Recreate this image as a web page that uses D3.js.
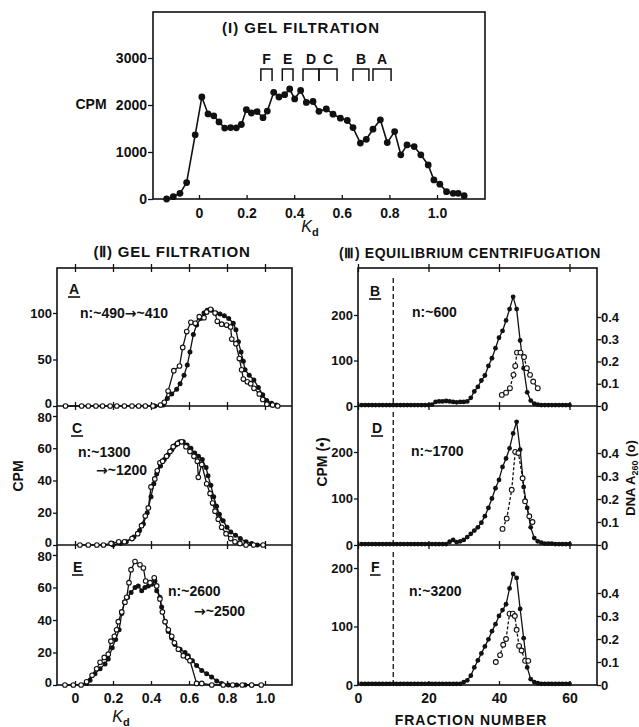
<!DOCTYPE html>
<html>
<head>
<meta charset="utf-8">
<script src="https://cdn.jsdelivr.net/npm/d3@7"></script>
<style>
  body { margin: 0; background: #fff; }
  text { font-family: "Liberation Sans", Arial, sans-serif; font-weight: bold; fill: #111; }
  .arrow { font-family: "DejaVu Sans", sans-serif; }
</style>
</head>
<body>
<div id="chart"></div>
<script>
// ---- (I) gel filtration profile [Kd, CPM]
const gelI = [[-0.136,0],[-0.108,50],[-0.08,120],[-0.052,350],[-0.016,1365],[0.012,2170],[0.038,1810],
  [0.062,1770],[0.084,1640],[0.108,1510],[0.133,1520],[0.157,1515],[0.178,1585],[0.199,1900],[0.22,1830],
  [0.244,1860],[0.269,1730],[0.287,1870],[0.314,2270],[0.336,2170],[0.36,2220],[0.381,2340],[0.402,2130],
  [0.427,2310],[0.451,2055],[0.479,2075],[0.504,1865],[0.535,1915],[0.563,1805],[0.594,1720],[0.623,1670],
  [0.647,1520],[0.678,1190],[0.703,1270],[0.731,1485],[0.762,1685],[0.791,1200],[0.822,1435],[0.848,940],
  [0.874,1150],[0.904,1115],[0.932,940],[0.963,725],[0.987,405],[1.012,315],[1.04,155],[1.068,120],
  [1.089,120],[1.114,70]];

// pooled fractions
const poolNames = ["F", "E", "D", "C", "B", "A"];
const poolStart = [0.26, 0.35, 0.437, 0.504, 0.647, 0.731];
const poolEnd   = [0.307, 0.395, 0.504, 0.58, 0.714, 0.807];

// ---- (II) re-chromatography [Kd, CPM]; open = open circles, fill = filled circles
const openA = [[-0.05,0],[0.035,0],[0.07,0],[0.11,0],[0.145,0],[0.185,0],[0.22,0],[0.26,0],[0.3,0],[0.335,0],
  [0.37,0],[0.41,0],[0.45,1],[0.47,4],[0.49,16],[0.52,38],[0.55,43],[0.567,63],[0.588,80],[0.61,90],[0.633,89],
  [0.654,96],[0.679,95],[0.693,101],[0.714,104],[0.737,100],[0.749,91],[0.772,88],[0.798,87],[0.819,85],
  [0.825,72],[0.847,67],[0.865,51],[0.877,39],[0.886,29],[0.907,26],[0.925,24],[0.942,19],[0.97,13],
  [0.988,7],[1.01,2],[1.04,1],[1.067,0]];
const fillA = [[0.42,0],[0.465,1],[0.486,8],[0.509,13],[0.535,18],[0.553,24],[0.574,33],[0.591,44],[0.605,58],
  [0.623,77],[0.64,87],[0.661,94],[0.679,100],[0.696,103],[0.719,103],[0.742,100],[0.763,99],[0.786,97],
  [0.809,94],[0.833,89],[0.847,82],[0.86,69],[0.874,58],[0.886,48],[0.895,39],[0.917,33],[0.942,28],
  [0.965,20],[0.988,12],[1.009,6],[1.035,3],[1.06,1]];

const openC = [[0.026,0],[0.07,0],[0.115,0],[0.15,0],[0.19,1],[0.23,2],[0.26,2],[0.3,4],[0.33,7],[0.35,12],
  [0.37,18],[0.386,23],[0.4,36],[0.42,41],[0.433,46],[0.447,51],[0.461,52],[0.482,55],[0.5,58],[0.517,61],
  [0.54,63],[0.561,64],[0.584,61],[0.605,58],[0.626,55],[0.644,52],[0.649,42],[0.667,50],[0.693,38],
  [0.711,32],[0.724,26],[0.737,21],[0.754,16],[0.772,11],[0.795,7],[0.82,4],[0.842,2],[0.868,1],[0.9,0],
  [0.94,0],[0.99,0]];
const fillC = [[0.2,0],[0.24,1],[0.27,2],[0.31,5],[0.34,9],[0.36,13],[0.38,20],[0.4,30],[0.415,38],[0.43,44],
  [0.45,49],[0.47,53],[0.49,56],[0.51,59],[0.53,62],[0.55,64],[0.57,64],[0.59,62],[0.61,60],[0.63,57],
  [0.65,55],[0.67,53],[0.69,48],[0.7,43],[0.715,37],[0.73,30],[0.745,24],[0.76,19],[0.78,15],[0.8,11],
  [0.82,8],[0.845,6],[0.87,4],[0.9,2],[0.93,1],[0.96,0]];

const openE = [[-0.053,0],[-0.009,0],[0.032,0],[0.061,2],[0.09,6],[0.114,10],[0.132,14],[0.154,17],[0.175,19],
  [0.189,27],[0.207,30],[0.219,34],[0.228,39],[0.246,45],[0.263,51],[0.272,54],[0.284,63],[0.295,71],
  [0.316,76],[0.342,74],[0.36,72],[0.372,64],[0.395,63],[0.417,66],[0.43,61],[0.447,53],[0.46,45],
  [0.474,39],[0.491,34],[0.509,30],[0.523,26],[0.544,22],[0.57,18],[0.593,17],[0.605,15],[0.64,1],
  [0.667,1],[0.72,0],[0.78,0],[0.83,0],[0.88,0],[0.93,0],[0.98,0]];
const fillE = [[0.061,1],[0.079,3],[0.105,7],[0.132,10],[0.158,13],[0.175,16],[0.196,23],[0.214,28],[0.232,34],
  [0.246,44],[0.26,51],[0.277,54],[0.295,57],[0.316,60],[0.333,61],[0.351,58],[0.368,60],[0.386,61],
  [0.404,62],[0.421,64],[0.43,58],[0.447,54],[0.456,48],[0.474,39],[0.491,33],[0.509,29],[0.526,25],
  [0.553,22],[0.579,20],[0.596,18],[0.618,15],[0.64,12],[0.667,9],[0.693,7],[0.719,5],[0.746,2.5],
  [0.772,1],[0.807,0],[0.851,0],[0.895,0],[0.93,0]];

// ---- (III) equilibrium centrifugation, CPM per fraction
const fractions = [1,2,3,4,5,6,7,8,9,10,11,12,13,14,15,16,17,18,19,20,21,22,23,24,25,26,27,28,29,30,
  31,32,33,34,35,36,37,38,39,40,41,42,43,44,45,46,47,48,49,50,51,52,53,54,55,56,57,58,59,60];
const cpmB = [2,2,2,2,2,2,2,2,2,2,2,2,2,2,2,2,2,2,2,2,3,
  9,10,10,11,10,9,8,9,9,10,
  18,32,42,56,67,88,105,127,150,165,
  188,213,240,213,144,83,30,12,5,3,
  2,2,2,2,2,2,2,2,2];
const cpmD = [2,2,2,2,2,2,2,2,2,2,2,2,2,2,2,2,2,2,2,2,2,2,2,2,2,
  7,11,6,8,11,17,24,31,38,48,
  62,80,100,122,140,168,186,208,240,265,
  205,125,80,38,15,8,5,3,3,3,
  2,2,2,2,2];
const cpmF = [2,2,2,2,2,2,2,2,2,2,2,2,2,2,2,2,2,2,2,2,2,2,2,2,2,2,2,2,2,
  5,8,16,30,42,54,66,78,92,104,
  118,128,138,165,190,183,130,80,30,10,
  5,3,2,2,2,2,2,2,2,2,2];

// DNA A260 (open circles) [fraction, A260]
const dnaB = [[40.8,0.05],[42,0.06],[43.1,0.08],[44.1,0.14],[44.6,0.18],[45.1,0.24],[46.1,0.24],[47.1,0.22],
  [47.9,0.17],[48.8,0.14],[49.7,0.11],[51,0.08]];
const dnaD = [[41,0.07],[42.2,0.115],[43.6,0.24],[44.6,0.405],[45.5,0.4],[46.7,0.29],[47.4,0.19],
  [48.6,0.125],[49.5,0.1]];
const dnaF = [[39.1,0.1],[40.3,0.13],[41.2,0.175],[42,0.2],[43,0.31],[43.9,0.31],[44.5,0.3],[45,0.24],
  [45.7,0.17],[46.4,0.15],[47.4,0.105],[48.3,0.105]];

const kdTicks = [0, 0.2, 0.4, 0.6, 0.8, 1.0];
const fracTicks = [0, 20, 40, 60];
const voidFraction = 10;

const ink = "#111";
const svg = d3.select("#chart").append("svg").attr("width", 639).attr("height", 727);

const kdFormat = d => d === 0 ? "0" : d3.format(".1f")(d);

function styleAxis(g, size) {
  g.select(".domain").remove();
  g.selectAll("line").attr("stroke", ink).attr("stroke-width", 1.3);
  g.selectAll("text").style("font-size", size + "px").attr("fill", ink);
}

// stacked sub-panels: lift the bottom "0" and drop the top label a little so they don't collide
function separateEnds(g, lo, hi) {
  g.selectAll(".tick").filter(d => d === lo).select("text").attr("dy", "0.1em");
  g.selectAll(".tick").filter(d => d === hi).select("text").attr("dy", "0.45em");
}

function plot(pts, x, y, opt) {
  const o = Object.assign({open: false, r: 2.4, dash: null, w: 1.3}, opt);
  svg.append("path").datum(pts)
     .attr("fill", "none").attr("stroke", ink).attr("stroke-width", o.w)
     .attr("stroke-dasharray", o.dash)
     .attr("d", d3.line().x(d => x(d[0])).y(d => y(d[1])));
  svg.append("g").selectAll("circle").data(pts).join("circle")
     .attr("cx", d => x(d[0])).attr("cy", d => y(d[1])).attr("r", o.r)
     .attr("fill", o.open ? "#fff" : ink)
     .attr("stroke", ink).attr("stroke-width", o.open ? 1.1 : 0);
}

function crossTicks(y, x, values) {
  svg.append("g").attr("transform", `translate(0,${y})`)
     .call(d3.axisBottom(x).tickValues(values).tickSize(4).tickFormat(""))
     .call(g => { styleAxis(g, 12); g.selectAll("line").attr("y1", -4).attr("y2", 4); });
}

function frame(x0, y0, x1, y1) {
  svg.append("rect").attr("x", x0).attr("y", y0).attr("width", x1 - x0).attr("height", y1 - y0)
     .attr("fill", "none").attr("stroke", ink).attr("stroke-width", 1.6);
}

function label(txt, x, y, size, anchor) {
  return svg.append("text").attr("x", x).attr("y", y).attr("text-anchor", anchor || "start")
            .style("font-size", size + "px").text(txt);
}

// text with an arrow glyph taken from a font that has it
function arrowLabel(before, after, x, y) {
  const t = svg.append("text").attr("x", x).attr("y", y).style("font-size", "14px");
  if (before) t.append("tspan").text(before);
  t.append("tspan").attr("class", "arrow").text("→");
  t.append("tspan").text(after);
}

function panelLetter(txt, x, y) {
  const t = label(txt, x, y, 14);
  const w = t.node().getComputedTextLength();
  svg.append("line").attr("x1", x - 1).attr("x2", x + w + 1).attr("y1", y + 3).attr("y2", y + 3)
     .attr("stroke", ink).attr("stroke-width", 1.6);
}

function kdLabel(x, y) {
  const t = svg.append("text").attr("x", x).attr("y", y).attr("text-anchor", "middle").style("font-size", "16px");
  t.append("tspan").style("font-style", "italic").style("font-weight", "normal").text("K");
  t.append("tspan").attr("dy", 4).style("font-size", "11px").text("d");
}

// ================= (I)
const xI = d3.scaleLinear().domain([0, 1]).range([199, 437]);
const yI = d3.scaleLinear().domain([0, 3000]).range([199, 58]);
frame(153, 12, 485, 199);
svg.append("g").attr("transform", "translate(153,0)")
   .call(d3.axisLeft(yI).tickValues([0, 1000, 2000, 3000]).tickSize(5).tickPadding(1).tickFormat(d3.format("d")))
   .call(g => styleAxis(g, 14));
svg.append("g").attr("transform", "translate(0,199)")
   .call(d3.axisBottom(xI).tickValues(kdTicks).tickSize(-4).tickPadding(9).tickFormat(kdFormat))
   .call(g => styleAxis(g, 14));
plot(gelI, xI, yI, {r: 3.4, w: 1.6});

svg.append("g").selectAll("path").data(poolNames).join("path")
   .attr("fill", "none").attr("stroke", ink).attr("stroke-width", 1.5)
   .attr("d", (d, i) => `M${xI(poolStart[i])},81V69H${xI(poolEnd[i])}V81`);
svg.append("g").selectAll("text").data(poolNames).join("text")
   .attr("x", (d, i) => xI((poolStart[i] + poolEnd[i]) / 2)).attr("y", 64)
   .attr("text-anchor", "middle").style("font-size", "14px").text(d => d);

label("(I) GEL FILTRATION", 301, 33, 15, "middle").style("letter-spacing", "1px");
label("CPM", 91, 109, 14, "middle");
kdLabel(310, 232);

// ================= (II)
const xII = d3.scaleLinear().domain([0, 1]).range([75, 265]);
const yA = d3.scaleLinear().domain([0, 100]).range([406, 313]);
const yC = d3.scaleLinear().domain([0, 80]).range([545, 416]);
const yE = d3.scaleLinear().domain([0, 80]).range([685, 555]);
frame(57, 268, 292, 685);
svg.append("line").attr("x1", 57).attr("x2", 292).attr("y1", 406).attr("y2", 406).attr("stroke", ink).attr("stroke-width", 1.6);
svg.append("line").attr("x1", 57).attr("x2", 292).attr("y1", 545).attr("y2", 545).attr("stroke", ink).attr("stroke-width", 1.6);
[268, 406, 545].forEach(y => crossTicks(y, xII, kdTicks));
svg.append("g").attr("transform", "translate(0,685)")
   .call(d3.axisBottom(xII).tickValues(kdTicks).tickSize(-4).tickPadding(8).tickFormat(kdFormat))
   .call(g => styleAxis(g, 14));
[[yA, [0, 50, 100]], [yC, [0, 20, 40, 60, 80]], [yE, [0, 20, 40, 60, 80]]].forEach(([y, t]) => {
  svg.append("g").attr("transform", "translate(57,0)")
     .call(d3.axisLeft(y).tickValues(t).tickSize(4).tickPadding(1))
     .call(g => { styleAxis(g, 13); separateEnds(g, 0, 80); });
});
plot(fillA, xII, yA, {r: 2.5});
plot(openA, xII, yA, {open: true, r: 2.3});
plot(fillC, xII, yC, {r: 2.5});
plot(openC, xII, yC, {open: true, r: 2.3});
plot(fillE, xII, yE, {r: 2.5});
plot(openE, xII, yE, {open: true, r: 2.3});

label("(Ⅱ) GEL FILTRATION", 172, 257, 15, "middle").style("letter-spacing", "0.8px");
panelLetter("A", 69, 294);
arrowLabel("n:~490", "~410", 80, 318);
panelLetter("C", 72, 433);
label("n:~1300", 78, 457, 14);
arrowLabel("", "~1200", 96, 475);
panelLetter("E", 73, 572);
label("n:~2600", 168, 596, 14);
arrowLabel("", "~2500", 194, 616);
svg.append("text").attr("transform", "translate(23,476) rotate(-90)").attr("text-anchor", "middle")
   .style("font-size", "14px").text("CPM");
kdLabel(121, 722);

// ================= (III)
const xIII = d3.scaleLinear().domain([0, 60]).range([358, 569.5]);
const yB = d3.scaleLinear().domain([0, 200]).range([406, 315]);
const yD = d3.scaleLinear().domain([0, 200]).range([545, 452]);
const yF = d3.scaleLinear().domain([0, 200]).range([685, 568]);
const aB = d3.scaleLinear().domain([0, 0.4]).range([406, 317]);
const aD = d3.scaleLinear().domain([0, 0.4]).range([545, 453]);
const aF = d3.scaleLinear().domain([0, 0.4]).range([685, 593]);
frame(358, 268, 597, 685);
svg.append("line").attr("x1", 358).attr("x2", 597).attr("y1", 406).attr("y2", 406).attr("stroke", ink).attr("stroke-width", 1.6);
svg.append("line").attr("x1", 358).attr("x2", 597).attr("y1", 545).attr("y2", 545).attr("stroke", ink).attr("stroke-width", 1.6);
[268, 406, 545].forEach(y => crossTicks(y, xIII, fracTicks));
svg.append("g").attr("transform", "translate(0,685)")
   .call(d3.axisBottom(xIII).tickValues(fracTicks).tickSize(-4).tickPadding(8))
   .call(g => styleAxis(g, 14));
[yB, yD, yF].forEach(y => {
  svg.append("g").attr("transform", "translate(358,0)")
     .call(d3.axisLeft(y).tickValues([0, 100, 200]).tickSize(4).tickPadding(1))
     .call(g => styleAxis(g, 13));
});
[aB, aD, aF].forEach(a => {
  svg.append("g").attr("transform", "translate(597,0)")
     .call(d3.axisRight(a).tickValues([0, 0.1, 0.2, 0.3, 0.4]).tickSize(4).tickPadding(0)
             .tickFormat(d => d === 0 ? "0" : d3.format(".1f")(d)))
     .call(g => styleAxis(g, 13));
});
// void volume marker
[[278, 406], [412, 545], [552, 685]].forEach(([y0, y1]) => {
  svg.append("line").attr("x1", xIII(voidFraction)).attr("x2", xIII(voidFraction))
     .attr("y1", y0).attr("y2", y1).attr("stroke", ink).attr("stroke-width", 1.3)
     .attr("stroke-dasharray", "5,3");
});
plot(d3.zip(fractions, cpmB), xIII, yB, {r: 2.4});
plot(dnaB, xIII, aB, {open: true, r: 2.4, dash: "3,2"});
plot(d3.zip(fractions, cpmD), xIII, yD, {r: 2.4});
plot(dnaD, xIII, aD, {open: true, r: 2.4, dash: "3,2"});
plot(d3.zip(fractions, cpmF), xIII, yF, {r: 2.4});
plot(dnaF, xIII, aF, {open: true, r: 2.4, dash: "3,2"});

label("(Ⅲ) EQUILIBRIUM  CENTRIFUGATION", 470, 258, 14, "middle").style("letter-spacing", "0.6px");
panelLetter("B", 370, 296);
label("n:~600", 412, 317, 14);
panelLetter("D", 372, 433);
label("n:~1700", 411, 456, 14);
panelLetter("F", 371, 572);
label("n:~3200", 409, 596, 14);
svg.append("text").attr("transform", "translate(327,462) rotate(-90)").attr("text-anchor", "middle")
   .style("font-size", "14px").text("CPM (•)");
const dna = svg.append("text").attr("transform", "translate(635,478) rotate(-90)").attr("text-anchor", "middle")
   .style("font-size", "13px");
dna.append("tspan").text("DNA  A");
dna.append("tspan").attr("dy", 3).style("font-size", "9px").text("260");
dna.append("tspan").attr("dy", -3).text("  (o)");
label("FRACTION NUMBER", 471, 725, 14, "middle").style("letter-spacing", "1px");
</script>
</body>
</html>
